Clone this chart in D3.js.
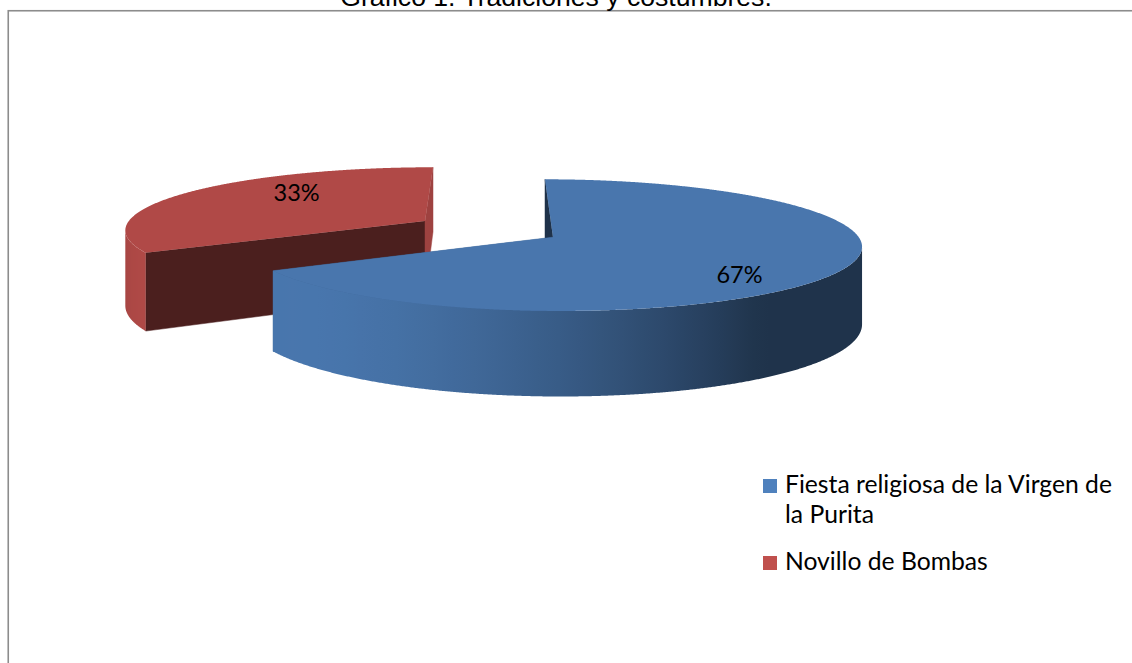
<!DOCTYPE html>
<html><head><meta charset="utf-8">
<script src="https://cdn.jsdelivr.net/npm/d3@7/dist/d3.min.js"></script>
<style>html,body{margin:0;padding:0;background:#fff;overflow:hidden}</style>
</head><body>
<svg id="c" width="1132" height="663"></svg>
<script>
// ---- data ----
const title = "Gráfico 1. Tradiciones y costumbres.";
const categories = ["Fiesta religiosa de la Virgen de la Purita", "Novillo de Bombas"];
const values = [67, 33];
const valueLabels = ["67%", "33%"];
const baseColors = ["#4F81BD", "#C0504D"];

// ---- layout ----
const svg = d3.select("#c");
const UI = "Lato, 'Noto Sans', sans-serif";
const LABEL_SIZE = 23.5;
const LEGEND_SIZE = 24.7;

// border
svg.append("rect").attr("x", 8.25).attr("y", 10.75).attr("width", 1200).attr("height", 700)
  .attr("fill", "none").attr("stroke", "#8c8c8c").attr("stroke-width", 1.6);

// title (mostly cut off at top, as in the original)
svg.append("text").attr("x", 556).attr("y", 6).attr("text-anchor", "middle")
  .attr("font-family", "'Liberation Sans', Arial, sans-serif").attr("font-size", 26.6)
  .attr("fill", "#000").text(title);

// 3D pie projection
const R = 301, K = 0.212, P = 0.125, DEPTH = 75, EXPLODE = 0.247;
const CX = 488, CY = 229;
function proj(X, Z, h) { const s = 1 + P * Z / R; return [CX + s * X, CY + s * (K * Z + h)]; }

const pie = d3.pie().sort(null).value(d => d)(values);
const slices = pie.map((p, i) => {
  const mid = (p.startAngle + p.endAngle) / 2;
  return {
    i, a0: p.startAngle, a1: p.endAngle, mid,
    ox: EXPLODE * R * Math.sin(mid), oz: -EXPLODE * R * Math.cos(mid),
    top: d3.color(baseColors[i]).darker(0.24)
  };
});
const STEP = Math.PI / 720;
function pt(s, t, r, h) { return proj(s.ox + r * Math.sin(t), s.oz - r * Math.cos(t), h); }
function arcPts(s, t0, t1, h) {
  const n = Math.max(2, Math.ceil(Math.abs(t1 - t0) / STEP));
  return d3.range(n + 1).map(k => pt(s, t0 + (t1 - t0) * k / n, R, h));
}
const lineGen = d3.line();
const L = [-0.8, 0.6];
function shade(t) { const nl = L[0] * Math.sin(t) + L[1] * (-Math.cos(t)); return 0.43 + 0.57 * Math.max(0, nl); }
function scaleColor(c, f) { const r = d3.rgb(c); return d3.rgb(r.r * f, r.g * f, r.b * f); }

const defs = svg.append("defs");
const g = svg.append("g");
slices.slice().sort((a, b) => a.oz - b.oz).forEach(s => {
  const sg = g.append("g");
  // radial faces
  [[s.a0, s.top.darker(2.4)], [s.a1, s.top.darker(0.3)]].forEach(([t, col]) => {
    const c0 = pt(s, t, 0, 0), o0 = pt(s, t, R, 0);
    const c1 = pt(s, t, 0, DEPTH), o1 = pt(s, t, R, DEPTH);
    sg.append("path").attr("d", lineGen([c0, o0, o1, c1]) + "Z").attr("fill", col).attr("stroke", col).attr("stroke-width", 0.5);
  });
  // silhouettes of the outer wall
  let tR = 0, xR = -1e9, tL = Math.PI, xL = 1e9;
  for (let t = 0; t <= Math.PI; t += STEP) { const x = pt(s, t, R, 0)[0]; if (x > xR) { xR = x; tR = t; } }
  for (let t = Math.PI; t <= 2 * Math.PI; t += STEP) { const x = pt(s, t, R, 0)[0]; if (x < xL) { xL = x; tL = t; } }
  const t0 = Math.max(s.a0, tR), t1 = Math.min(s.a1, tL);
  if (t1 > t0) {
    const topA = arcPts(s, t0, t1, 0), botA = arcPts(s, t0, t1, DEPTH);
    const xs = topA.map(p => p[0]);
    const xmin = d3.min(xs), xmax = d3.max(xs);
    const gid = "side" + s.i;
    const grad = defs.append("linearGradient").attr("id", gid).attr("gradientUnits", "userSpaceOnUse")
      .attr("x1", xmin).attr("x2", xmax).attr("y1", 0).attr("y2", 0);
    const n = 40;
    const samples = d3.range(n + 1).map(k => { const t = t0 + (t1 - t0) * k / n; return [pt(s, t, R, 0)[0], shade(t)]; })
      .sort((a, b) => a[0] - b[0]);
    samples.forEach(([x, f]) => grad.append("stop").attr("offset", (xmax > xmin ? (x - xmin) / (xmax - xmin) : 0))
      .attr("stop-color", scaleColor(s.top, f)));
    sg.append("path").attr("d", lineGen(topA.concat(botA.reverse())) + "Z")
      .attr("fill", `url(#${gid})`);
  }
  // top face
  const topPts = [pt(s, 0, 0, 0)].concat(arcPts(s, s.a0, s.a1, 0));
  sg.append("path").attr("d", lineGen(topPts) + "Z").attr("fill", s.top);
});

// value labels
const labelPlace = [{f: 0.67, dy: 14}, {f: 0.53, dy: -12}];
slices.forEach(s => {
  const lp = labelPlace[s.i];
  const p = pt(s, s.mid, lp.f * R, 0);
  svg.append("text").attr("x", p[0]).attr("y", p[1] + lp.dy + 0.36 * LABEL_SIZE)
    .attr("text-anchor", "middle").attr("font-family", UI).attr("font-size", LABEL_SIZE)
    .attr("fill", "#000").text(valueLabels[s.i]);
});

// legend with wrapping
const LX = 763, KEY = 14, TX = 785, MAXW = 332, LINE_H = 30, ITEM_GAP = 47;
let baseY = 493;
categories.forEach((cat, i) => {
  svg.append("rect").attr("x", LX).attr("y", baseY - KEY).attr("width", KEY).attr("height", KEY).attr("fill", baseColors[i]);
  const t = svg.append("text").attr("font-family", UI).attr("font-size", LEGEND_SIZE).attr("fill", "#000");
  const words = cat.split(" ");
  let lines = [], cur = [];
  const probe = svg.append("text").attr("font-family", UI).attr("font-size", LEGEND_SIZE);
  words.forEach(w => {
    const test = cur.concat([w]).join(" ");
    probe.text(test);
    if (probe.node().getComputedTextLength() > MAXW && cur.length) { lines.push(cur.join(" ")); cur = [w]; }
    else cur.push(w);
  });
  lines.push(cur.join(" "));
  probe.remove();
  lines.forEach((ln, k) => t.append("tspan").attr("x", TX).attr("y", baseY + k * LINE_H).text(ln));
  baseY += (lines.length - 1) * LINE_H + ITEM_GAP;
});
</script>
</body></html>
